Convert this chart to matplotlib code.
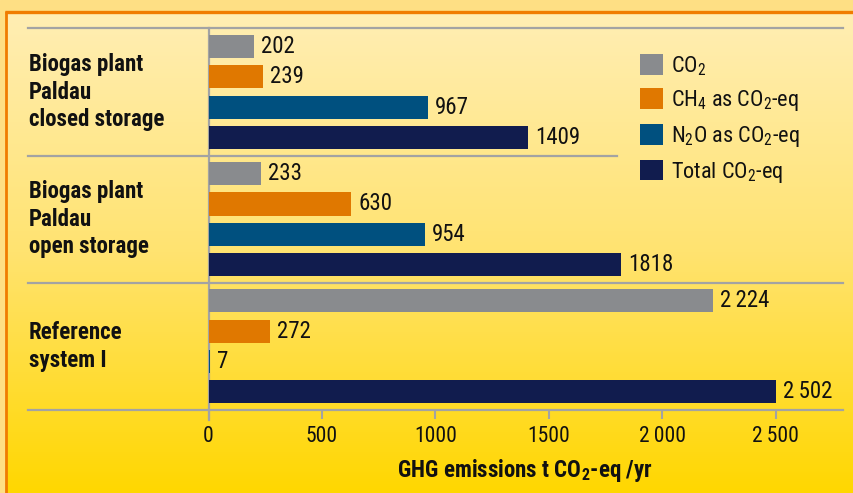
import numpy as np
import matplotlib
matplotlib.use("Agg")
import matplotlib.pyplot as plt
from matplotlib.patches import Rectangle

# ---------------- data ----------------
groups = ["Biogas plant\nPaldau\nclosed storage",
          "Biogas plant\nPaldau\nopen storage",
          "Reference\nsystem I"]
series = ["CO$_2$", "CH$_4$ as CO$_2$-eq", "N$_2$O as CO$_2$-eq", "Total CO$_2$-eq"]
co2 = [202, 233, 2224]
ch4 = [239, 630, 272]
n2o = [967, 954, 7]
total = [1409, 1818, 2502]
xticks = [0, 500, 1000, 1500, 2000, 2500]
xticklabels = ["0", "500", "1000", "1500", "2\u2009000", "2\u2009500"]
xlabel = r"GHG emissions t CO$_\mathbf{2}$-eq /yr"

colors = ["#898B8E", "#E07800", "#00507F", "#111C4E"]
GRID = "#A3A3A3"

FONT = ["Roboto Condensed", "DejaVu Sans"]
plt.rcParams["font.family"] = FONT
plt.rcParams["mathtext.fontset"] = "custom"
plt.rcParams["mathtext.rm"] = "Roboto Condensed"
plt.rcParams["mathtext.it"] = "Roboto Condensed:italic"
plt.rcParams["mathtext.bf"] = "Roboto Condensed:bold"

W, H = 854, 493
fig = plt.figure(figsize=(W / 100, H / 100), dpi=100)

# ---------------- background ----------------
bg = fig.add_axes([0, 0, 1, 1], zorder=-10)
bg.set_xlim(0, W)
bg.set_ylim(H, 0)
bg.axis("off")
bg.add_patch(Rectangle((0, 0), W, H, color="#FEDF84", zorder=0))
t = np.linspace(0, 1, 300)
c_top = np.array([255, 238, 180]) / 255
c_mid = np.array([255, 227, 112]) / 255
c_bot = np.array([255, 215, 0]) / 255
grad = np.where(t[:, None] < 0.5,
                c_top + (c_mid - c_top) * (t[:, None] / 0.5),
                c_mid + (c_bot - c_mid) * ((t[:, None] - 0.5) / 0.5))
bg.imshow(grad[:, None, :], extent=(6, W, H, 12), aspect="auto", zorder=1,
          interpolation="bilinear")
bg.plot([5, W], [11.5, 11.5], color="#F07C00", lw=2.4, zorder=2, solid_capstyle="butt")
bg.plot([6, 6], [10.5, H], color="#F07C00", lw=2.0, zorder=2, solid_capstyle="butt")

# ---------------- main axes ----------------
x0_px, x1_px, y0_px, y1_px = 208.6, 843, 28.3, 410
ax = fig.add_axes([x0_px / W, (H - y1_px) / H, (x1_px - x0_px) / W, (y1_px - y0_px) / H])
ax.patch.set_alpha(0)
for s in ax.spines.values():
    s.set_visible(False)

gap = 1.19
base = np.array([0, 3 + gap, 2 * (3 + gap)])
top_y = -0.6
bot_y = base[-1] + 3 + 0.6
ax.set_xlim(0, 2797)
ax.set_ylim(bot_y, top_y)

bh = 0.76
for j, vals in enumerate([co2, ch4, n2o, total]):
    ys = base + j
    ax.barh(ys, vals, height=bh, color=colors[j], label=series[j], zorder=3)
    for y, v in zip(ys, vals):
        lab = f"{v:,}".replace(",", "\u2009") if v >= 2000 else str(v)
        ax.annotate(lab, (v, y), xytext=(5, 0), textcoords="offset points",
                    ha="left", va="center", fontsize=16.5, color="#111111")

# separator lines
ytr = ax.get_yaxis_transform()
left_f = (28 - x0_px) / (x1_px - x0_px)
mid_end = (617 - x0_px) / (x1_px - x0_px)
seps = [top_y] + [base[g] + 3 + gap / 2 for g in range(2)] + [bot_y]
ends = [1, mid_end, 1, 1]
for y, e in zip(seps, ends):
    ax.plot([left_f, e], [y, y], transform=ytr, color=GRID, lw=1.6, clip_on=False, zorder=2)
ax.plot([0, 0], [top_y, bot_y + 0.33], color=GRID, lw=1.6, clip_on=False, zorder=2)

# ticks
ax.set_yticks([])
ax.set_xticks(xticks)
ax.set_xticklabels(xticklabels, fontsize=15.5, color="#111111")
ax.tick_params(axis="x", length=6.5, width=1.5, color=GRID, pad=5)

# group labels
for g, lab in enumerate(groups):
    ax.text(left_f + 0.001, base[g] + 1.5, lab, transform=ytr, ha="left", va="center",
            fontsize=16.5, fontweight="bold", color="#111111", linespacing=1.25)

# legend
leg = ax.legend(loc="upper left",
                bbox_to_anchor=((640 - x0_px) / (x1_px - x0_px), 1 - (54 - y0_px) / (y1_px - y0_px)),
                frameon=False, fontsize=16, handlelength=1.05, handleheight=1.05,
                handletextpad=0.35, labelspacing=0.48, borderpad=0, borderaxespad=0)
for txt in leg.get_texts():
    txt.set_color("#111111")

fig.text(525 / W, 1 - 470 / H, xlabel, ha="center", va="center",
         fontsize=16.5, fontweight="bold", color="#111111")

fig.savefig("out.png", dpi=100)
